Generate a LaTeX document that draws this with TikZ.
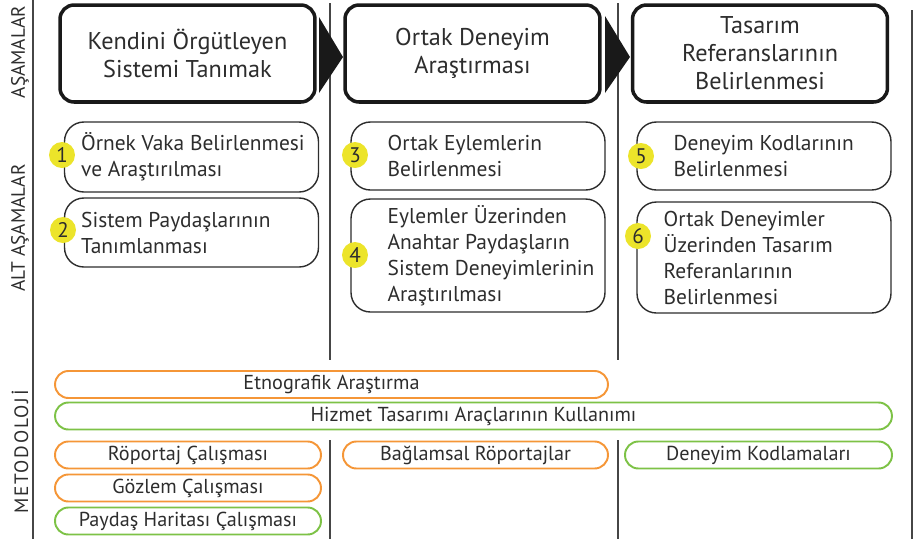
\documentclass[tikz,border=0pt]{standalone}
\usepackage{fontspec}
\setmainfont{PT Sans}
\definecolor{inkgray}{RGB}{45,45,45}
\definecolor{rulegray}{RGB}{70,70,70}
\definecolor{numyellow}{RGB}{236,228,42}
\definecolor{methorange}{RGB}{245,150,55}
\definecolor{methgreen}{RGB}{125,194,70}
\tikzset{
  phasebox/.style={draw=black!90,rounded corners=8pt,line width=2pt,align=center,text=inkgray,
    minimum width=5.1cm,minimum height=1.94cm,inner sep=0pt,font=\fontsize{13.8}{15.9}\selectfont},
  subbox/.style={draw=inkgray,rounded corners=11pt,line width=.8pt,minimum width=5.08cm,inner sep=0pt},
  subtext/.style={anchor=west,align=left,inner sep=0pt,text=inkgray,font=\fontsize{12.2}{14.8}\selectfont},
  stepnum/.style={circle,fill=numyellow,inner sep=0pt,minimum size=.52cm,text=inkgray,font=\fontsize{12}{12}\selectfont},
  methbox/.style={rounded corners=7.6pt,line width=1.1pt,minimum height=.54cm,inner sep=0pt,text=inkgray,
    font=\fontsize{11.5}{12}\selectfont},
  methor/.style={methbox,draw=methorange},
  methgr/.style={methbox,draw=methgreen},
  sidelabel/.style={rotate=90,inner sep=0pt,text=inkgray,font=\fontsize{11}{12}\selectfont},
  divider/.style={draw=rulegray,line width=.8pt}
}

\begin{document}
\begin{tikzpicture}[x=0.02cm,y=-0.02cm]
  \useasboundingbox (0,0) rectangle (914,539);
  % frame lines
  \draw[divider] (33,0) -- (33,539);
  \draw[divider] (912,10) -- (912,539);
  \draw[divider] (330,3) -- (330,360);
  \draw[divider] (330,440) -- (330,539);
  \draw[divider] (618,3) -- (618,360);
  \draw[divider] (618,440) -- (618,539);

  \node[sidelabel] (lab1) at (20,52) {AŞAMALAR};
  \node[sidelabel] (lab2) at (20,228) {ALT AŞAMALAR};
  \node[sidelabel] (lab3) at (20,452) {\addfontfeature{LetterSpace=9}METODOLOJİ};

  % phases
  \node[phasebox,fill=white] (p1) at (187.5,53.5) {Kendini Örgütleyen\\Sistemi Tanımak};
  \node[phasebox,fill=white] (p2) at (472.5,53.5) {Ortak Deneyim\\Araştırması};
  \node[phasebox,fill=white] (p3) at (760,53.5) {Tasarım\\Referanslarının\\Belirlenmesi};
  \fill[black!90] (319,17) -- (343,57) -- (319,93) -- cycle;
  \fill[black!90] (605,16) -- (630,57) -- (605,93) -- cycle;

  % sub phases
  \node[subbox,minimum height=1.4cm] (s1) at (191.5,157) {};
  \node[subbox,minimum height=1.38cm] (s2) at (191.5,232.5) {};
  \node[subbox,minimum height=1.36cm] (s3) at (478,156) {};
  \node[subbox,minimum height=2.26cm] (s4) at (478,255.5) {};
  \node[subbox,minimum height=1.36cm] (s5) at (764,156) {};
  \node[subbox,minimum height=2.22cm] (s6) at (764,257.5) {};

  \node[subtext] (t1) at ([xshift=.34cm]s1.west) {Örnek Vaka Belirlenmesi\\ve Araştırılması};
  \node[subtext] (t2) at ([xshift=.34cm]s2.west) {Sistem Paydaşlarının\\Tanımlanması};
  \node[subtext] (t3) at ([xshift=.74cm]s3.west) {Ortak Eylemlerin\\Belirlenmesi};
  \node[subtext] (t4) at ([xshift=.74cm]s4.west) {Eylemler Üzerinden\\Anahtar Paydaşların\\Sistem Deneyimlerinin\\Araştırılması};
  \node[subtext] (t5) at ([xshift=.74cm]s5.west) {Deneyim Kodlarının\\Belirlenmesi};
  \node[subtext] (t6) at ([xshift=.54cm]s6.west) {Ortak Deneyimler\\Üzerinden Tasarım\\Referanlarının\\Belirlenmesi};

  \node[stepnum] (n1) at (62,155) {1};
  \node[stepnum] (n2) at (63,230) {2};
  \node[stepnum] (n3) at (355,155) {3};
  \node[stepnum] (n4) at (355,255) {4};
  \node[stepnum] (n5) at (641,156) {5};
  \node[stepnum] (n6) at (638,236) {6};

  % methodology
  \node[methor,minimum width=11.06cm] (m1) at (331.5,384.5) {Etnografik Araştırma};
  \node[methgr,minimum width=16.74cm] (m2) at (473.5,416) {Hizmet Tasarımı Araçlarının Kullanımı};
  \node[methor,minimum width=5.32cm] (m3) at (188,455) {Röportaj Çalışması};
  \node[methor,minimum width=5.32cm] (m4) at (188,488) {Gözlem Çalışması};
  \node[methgr,minimum width=5.32cm] (m5) at (188,521) {Paydaş Haritası Çalışması};
  \node[methor,minimum width=5.3cm] (m6) at (475.5,455) {Bağlamsal Röportajlar};
  \node[methgr,minimum width=5.34cm] (m7) at (758.5,455) {Deneyim Kodlamaları};
\end{tikzpicture}
\end{document}
